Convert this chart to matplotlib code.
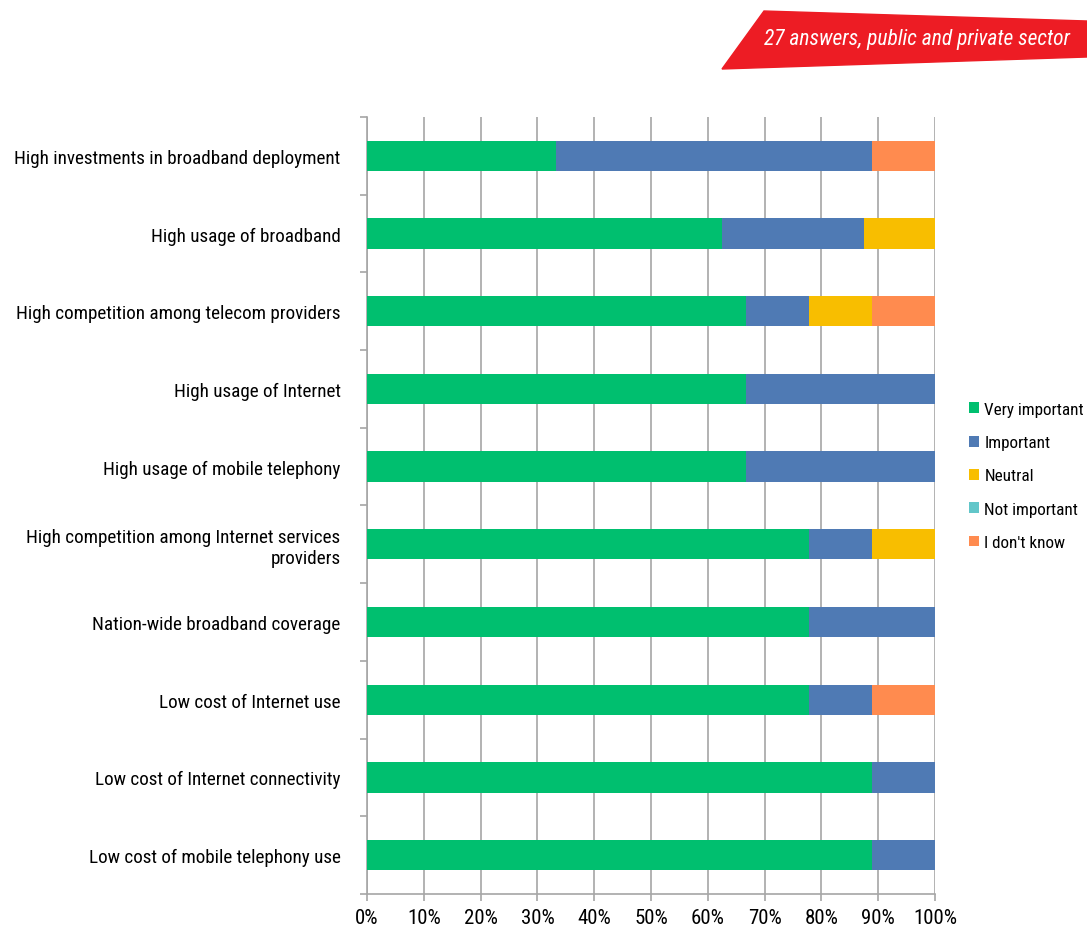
import matplotlib
matplotlib.use("Agg")
import matplotlib.pyplot as plt
from matplotlib.patches import Polygon
from matplotlib.transforms import ScaledTranslation
import numpy as np

plt.rcParams['font.family'] = ['Roboto Condensed', 'DejaVu Sans']

# Categories, top to bottom
categories = [
    "High investments in broadband deployment",
    "High usage of broadband",
    "High competition among telecom providers",
    "High usage of Internet",
    "High usage of mobile telephony",
    "High competition among Internet services\nproviders",
    "Nation-wide broadband coverage",
    "Low cost of Internet use",
    "Low cost of Internet connectivity",
    "Low cost of mobile telephony use",
]

# Shares in percent
very_important = [33.3, 62.5, 66.7, 66.7, 66.7, 77.8, 77.8, 77.8, 88.9, 88.9]
important = [55.6, 25.0, 11.1, 33.3, 33.3, 11.1, 22.2, 11.1, 11.1, 11.1]
neutral = [0, 12.5, 11.1, 0, 0, 11.1, 0, 0, 0, 0]
not_important = [0, 0, 0, 0, 0, 0, 0, 0, 0, 0]
dont_know = [11.1, 0, 11.1, 0, 0, 0, 0, 11.1, 0, 0]

series_names = ["Very important", "Important", "Neutral", "Not important", "I don't know"]
colors = ["#00BF6F", "#4F7AB4", "#F8BE00", "#62C6C9", "#FF8B4F"]

fig = plt.figure(figsize=(10.87, 9.29), dpi=100)
ax = fig.add_axes([0.3376, 0.0366, 0.5226, 0.8364])

y = np.arange(len(categories))
left = np.zeros(len(categories))
for vals, name, c in zip([very_important, important, neutral, not_important, dont_know],
                         series_names, colors):
    vals = np.array(vals)
    ax.barh(y, vals, left=left, height=0.39, color=c, label=name, zorder=3)
    left += vals

ax.set_xlim(0, 100)
ax.set_ylim(len(categories) - 0.5, -0.5)
ax.set_xticks(np.arange(0, 101, 10))
ax.set_xticklabels([f"{v}%" for v in range(0, 101, 10)], fontsize=15)
ax.xaxis.grid(True, color="#A6A6A6", linewidth=1.2, zorder=0)
# labels drift slightly right of their ticks in the original
for i, lbl in enumerate(ax.get_xticklabels()):
    lbl.set_transform(lbl.get_transform() + ScaledTranslation(i * 0.011, 0, fig.dpi_scale_trans))

# y ticks at category boundaries, labels centred
ax.set_yticks(np.arange(-0.5, len(categories), 1))
ax.set_yticklabels([])
ax.set_yticks(y, minor=True)
ax.set_yticklabels(categories, minor=True, fontsize=13.8, ha="right")
ax.tick_params(axis="y", which="minor", length=0, pad=19)
ax.tick_params(axis="y", which="major", length=5, color="#A6A6A6", width=1.2)
ax.tick_params(axis="x", length=5, color="#A6A6A6", width=1.2, pad=5)

for s in ["top", "right"]:
    ax.spines[s].set_visible(False)
for s in ["left", "bottom"]:
    ax.spines[s].set_color("#A6A6A6")
    ax.spines[s].set_linewidth(1.2)

handles, labels = ax.get_legend_handles_labels()
leg = fig.legend(handles, labels, loc="center left", bbox_to_anchor=(0.8915, 0.4866),
                 frameon=False, fontsize=12.3, handlelength=0.6, handleheight=0.6,
                 handletextpad=0.3, labelspacing=1.07, borderaxespad=0, borderpad=0)

# Red banner, top right
W, H = 1087, 929
pts = [(764, 12), (1087, 22), (1087, 58), (722, 70)]
banner = Polygon([(px / W, 1 - py / H) for px, py in pts], closed=True,
                 transform=fig.transFigure, color="#ED1C24", zorder=5)
fig.patches.append(banner)
fig.text(917 / W, 1 - 40 / H, "27 answers, public and private sector", color="white",
         style="italic", fontsize=15.5, ha="center", va="center", zorder=6)

fig.savefig("out.png", dpi=100)
